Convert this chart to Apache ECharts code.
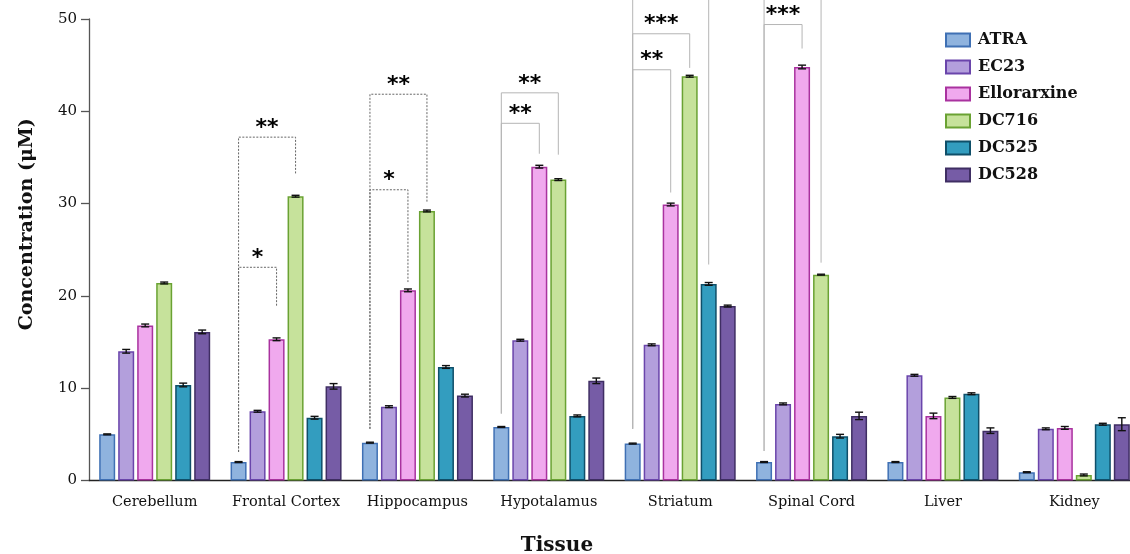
<!DOCTYPE html>
<html>
<head>
<meta charset="utf-8">
<script src="https://cdn.jsdelivr.net/npm/echarts@6/dist/echarts.min.js"></script>
<style>
  html, body { margin: 0; padding: 0; background: #fff; }
  #chart { width: 1130px; height: 554px; }
</style>
</head>
<body>
<div id="chart"></div>
<script>
// ---------------- DATA ----------------
const tissues = ['Cerebellum', 'Frontal Cortex', 'Hippocampus', 'Hypotalamus', 'Striatum', 'Spinal Cord', 'Liver', 'Kidney'];
const compounds = ['ATRA', 'EC23', 'Ellorarxine', 'DC716', 'DC525', 'DC528'];

const ATRA        = [5.0, 2.0, 4.1, 5.8, 4.0, 2.0, 2.0, 0.9];
const EC23        = [14.0, 7.5, 8.0, 15.2, 14.7, 8.3, 11.4, 5.6];
const Ellorarxine = [16.8, 15.3, 20.6, 34.0, 29.9, 44.8, 7.0, 5.7];
const DC716       = [21.4, 30.8, 29.2, 32.6, 43.8, 22.3, 9.0, 0.6];
const DC525       = [10.35, 6.8, 12.3, 7.0, 21.3, 4.8, 9.4, 6.1];
const DC528       = [16.1, 10.2, 9.2, 10.8, 18.9, 7.0, 5.4, 6.1];

const ATRA_err        = [0.05, 0.05, 0.05, 0.05, 0.05, 0.05, 0.05, 0.05];
const EC23_err        = [0.2, 0.1, 0.1, 0.1, 0.1, 0.1, 0.1, 0.1];
const Ellorarxine_err = [0.15, 0.15, 0.15, 0.15, 0.15, 0.2, 0.3, 0.15];
const DC716_err       = [0.1, 0.1, 0.1, 0.1, 0.1, 0.05, 0.1, 0.1];
const DC525_err       = [0.2, 0.15, 0.15, 0.1, 0.15, 0.2, 0.1, 0.1];
const DC528_err       = [0.2, 0.3, 0.15, 0.3, 0.1, 0.4, 0.3, 0.7];

const yTicks = [0, 10, 20, 30, 40, 50];

// significance brackets (ATRA vs. compound)
const bracketTissue   = [1, 1, 2, 2, 3, 3, 4, 4, 4, 5, 5];
const bracketTo       = [2, 3, 2, 3, 2, 3, 2, 3, 4, 2, 3];
const bracketTop      = [23.1, 37.2, 31.5, 41.85, 38.7, 42.0, 44.5, 48.4, 53.5, 49.4, 53.5];
const bracketLeftEnd  = [3.1, 3.1, 5.6, 5.6, 7.25, 7.25, 5.6, 5.6, 5.6, 3.2, 3.2];
const bracketRightEnd = [18.8, 33.2, 21.5, 30.1, 35.4, 35.3, 31.2, 44.7, 23.4, 46.8, 23.6];
const bracketLabel    = ['*', '**', '*', '**', '**', '**', '**', '***', '', '***', ''];
const bracketDashed   = [1, 1, 1, 1, 0, 0, 0, 0, 0, 0, 0];

// ---------------- STYLE ----------------
const values = [ATRA, EC23, Ellorarxine, DC716, DC525, DC528];
const errors = [ATRA_err, EC23_err, Ellorarxine_err, DC716_err, DC525_err, DC528_err];
const fills   = ['#8fb3de', '#b39fdc', '#f0a9ee', '#c6e29b', '#339dbf', '#765ca6'];
const borders = ['#3f70b4', '#6a45ab', '#a9329f', '#6aa233', '#0f4f69', '#3f2e63'];
const BAR_W = 16, BAR_BORDER = 1.5, PITCH = 19;
const SERIF = '"DejaVu Serif", "Liberation Serif", serif';

function barOffset(i) { return (i - 2.5) * PITCH; }

const series = [];
compounds.forEach((name, i) => {
  series.push({
    name: name,
    type: 'bar',
    data: values[i],
    barWidth: BAR_W,
    barGap: ((PITCH - BAR_W) / BAR_W * 100) + '%',
    itemStyle: { color: fills[i], borderColor: borders[i], borderWidth: BAR_BORDER },
    emphasis: { disabled: true },
    z: 2
  });
});

// error bars
const errData = [];
compounds.forEach((c, i) => {
  tissues.forEach((t, j) => { errData.push([j, values[i][j], errors[i][j], i]); });
});
series.push({
  type: 'custom',
  name: 'errors',
  data: errData,
  z: 5,
  silent: true,
  renderItem: function (params, api) {
    const cat = api.value(0), v = api.value(1), e = api.value(2), si = api.value(3);
    const off = barOffset(si);
    const top = api.coord([cat, v + e]);
    const bot = api.coord([cat, v - e]);
    const x = top[0] + off;
    const cap = 4;
    const st = { stroke: '#111', lineWidth: 1.4 };
    return {
      type: 'group',
      children: [
        { type: 'line', shape: { x1: x, y1: top[1], x2: x, y2: bot[1] }, style: st },
        { type: 'line', shape: { x1: x - cap, y1: top[1], x2: x + cap, y2: top[1] }, style: st },
        { type: 'line', shape: { x1: x - cap, y1: bot[1], x2: x + cap, y2: bot[1] }, style: st }
      ]
    };
  }
});

// significance brackets
const brData = bracketTissue.map((t, k) => [t, 0, bracketTo[k], bracketTop[k], bracketLeftEnd[k], bracketRightEnd[k], bracketDashed[k], k]);
series.push({
  type: 'custom',
  name: 'brackets',
  data: brData,
  z: 6,
  silent: true,
  renderItem: function (params, api) {
    const cat = api.value(0), from = api.value(1), to = api.value(2);
    const topV = api.value(3), lV = api.value(4), rV = api.value(5), dashed = api.value(6), k = api.value(7);
    const pTop = api.coord([cat, topV]);
    const pL = api.coord([cat, lV]);
    const pR = api.coord([cat, rV]);
    const xL = pTop[0] + barOffset(from);
    const xR = pTop[0] + barOffset(to);
    const style = dashed
      ? { stroke: '#666', lineWidth: 1, lineDash: [2, 1.5], fill: null }
      : { stroke: '#b5b5b5', lineWidth: 1, fill: null };
    const children = [{
      type: 'polyline',
      shape: { points: [[xL, pL[1]], [xL, pTop[1]], [xR, pTop[1]], [xR, pR[1]]] },
      style: style
    }];
    const lab = bracketLabel[k];
    if (lab) {
      children.push({
        type: 'text',
        style: {
          text: lab, x: (xL + xR) / 2, y: pTop[1] - 9,
          align: 'center', verticalAlign: 'middle',
          font: 'bold 22px "DejaVu Sans", sans-serif', fill: '#000'
        }
      });
    }
    return { type: 'group', children: children };
  }
});

const chart = echarts.init(document.getElementById('chart'), null, { renderer: 'canvas' });
chart.setOption({
  animation: false,
  backgroundColor: '#fff',
  grid: { left: 89, top: 19, width: 1051, height: 461.5, containLabel: false, outerBoundsMode: 'none' },
  legend: {
    data: compounds,
    orient: 'vertical',
    left: 940,
    top: 27,
    icon: 'rect',
    itemWidth: 24,
    itemHeight: 13,
    itemGap: 11,
    textStyle: { fontFamily: SERIF, fontWeight: 'bold', fontSize: 16, color: '#111', padding: [0, 0, 0, 3], lineHeight: 13 },
    selectedMode: false
  },
  xAxis: {
    type: 'category',
    data: tissues,
    boundaryGap: true,
    name: 'Tissue',
    nameLocation: 'middle',
    nameGap: 55.5,
    nameTextStyle: { fontFamily: SERIF, fontWeight: 'bold', fontSize: 20, color: '#111', padding: [0, 115, 0, 0] },
    axisLine: { lineStyle: { color: '#222', width: 1.3 } },
    axisTick: { alignWithLabel: true, length: 6, lineStyle: { color: '#444', width: 1.3 } },
    axisLabel: { fontFamily: SERIF, fontSize: 14.5, color: '#111', margin: 14, interval: 0 },
    splitLine: { show: false }
  },
  yAxis: {
    type: 'value',
    min: 0,
    max: 50,
    interval: 10,
    name: 'Concentration (μM)',
    nameLocation: 'middle',
    nameGap: 52,
    nameTextStyle: { fontFamily: SERIF, fontWeight: 'bold', fontSize: 19, color: '#111', padding: [0, 0, 0, 51] },
    axisLine: { show: true, lineStyle: { color: '#555', width: 1.3 } },
    axisTick: { show: true, length: 8, lineStyle: { color: '#555', width: 1.3 } },
    axisLabel: {
      fontFamily: SERIF, fontSize: 15, color: '#111', margin: 12,
      formatter: function (v) { return yTicks.indexOf(v) >= 0 ? String(v) : ''; }
    },
    splitLine: { show: false }
  },
  series: series
});
</script>
</body>
</html>
